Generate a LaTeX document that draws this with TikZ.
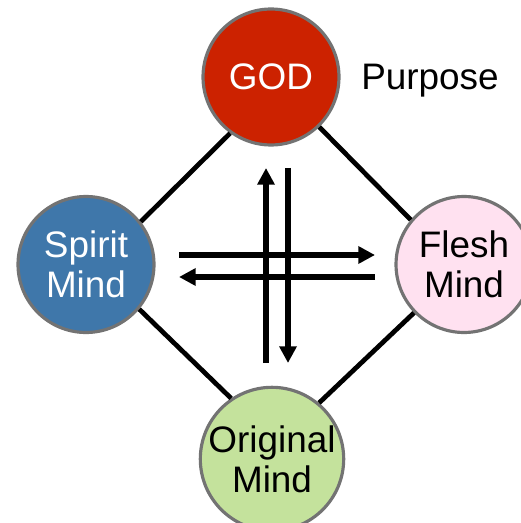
\documentclass[tikz,border=0pt]{standalone}
\usepackage{fontspec}
\setmainfont{Liberation Sans}
\usetikzlibrary{arrows.meta}
\definecolor{god-red}{HTML}{CC2200}
\definecolor{spirit-blue}{HTML}{3F77AA}
\definecolor{flesh-pink}{HTML}{FFE1F0}
\definecolor{original-green}{HTML}{C4E29C}
\definecolor{rim-gray}{HTML}{737373}

\begin{document}
\begin{tikzpicture}[x=0.02cm, y=-0.02cm,
    mind/.style={circle, draw=rim-gray, line width=1.8pt, minimum size=2.72cm,
                 inner sep=0pt, align=center, font=\fontsize{21}{22.7}\selectfont},
    link/.style={line width=2.7pt},
    flow/.style={line width=3pt, -{Triangle[length=9.5pt, width=9.5pt]}}]
    \useasboundingbox (0,0) rectangle (520,523);
    \node[mind, fill=god-red, text=white] (god) at (271,77) {GOD};
    \node[mind, fill=spirit-blue, text=white] (spirit) at (86,264.5) {Spirit\\Mind};
    \node[mind, fill=flesh-pink] (flesh) at (464,264.5) {Flesh\\Mind};
    \node[mind, fill=original-green] (original) at (272,459) {Original\\Mind};
    \node[anchor=base, font=\fontsize{21}{22.7}\selectfont] (purpose) at (430,90) {Purpose};
    % the four sides
    \draw[link] (spirit.38) -- (god.234);
    \draw[link] (god.-46) -- (flesh.140);
    \draw[link] (spirit.-40) -- (original.124);
    \draw[link] (flesh.224) -- (original.50);
    % crossing arrows in the middle
    \coordinate (up-foot) at (266,363);
    \coordinate (up-tip) at (266,168);
    \coordinate (down-foot) at (288,168);
    \coordinate (down-tip) at (288,363);
    \coordinate (right-foot) at (179,255);
    \coordinate (right-tip) at (375,255);
    \coordinate (left-foot) at (375,277);
    \coordinate (left-tip) at (179,277);
    \draw[flow] (up-foot) -- (up-tip);
    \draw[flow] (down-foot) -- (down-tip);
    \draw[flow] (right-foot) -- (right-tip);
    \draw[flow] (left-foot) -- (left-tip);
\end{tikzpicture}
\end{document}
